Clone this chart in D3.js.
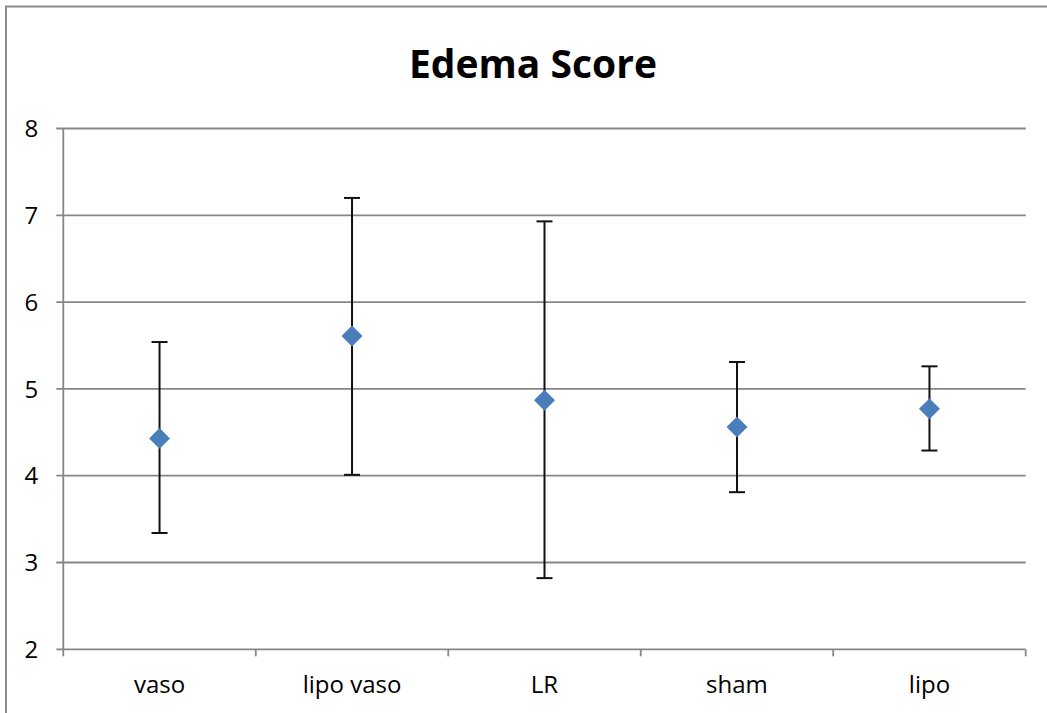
<!DOCTYPE html>
<html>
<head>
<meta charset="utf-8">
<script src="https://cdn.jsdelivr.net/npm/d3@7"></script>
<style>
  html, body { margin: 0; padding: 0; background: #fff; }
  svg { display: block; font-family: "Open Sans", sans-serif; }
</style>
</head>
<body>
<div id="chart"></div>
<script>
// data
const categories = ["vaso", "lipo vaso", "LR", "sham", "lipo"];
const means = [4.43, 5.61, 4.87, 4.56, 4.77];
const upper = [5.54, 7.20, 6.93, 5.31, 5.26];
const lower = [3.34, 4.01, 2.82, 3.81, 4.29];
const yTicks = [2, 3, 4, 5, 6, 7, 8];

const W = 1047, H = 713;
let margin = {top: 128.5, right: 21.3, bottom: 63.7, left: 63.3};
let width = W - margin.left - margin.right,
    height = H - margin.top - margin.bottom;

let data = categories.map(function(c, i) {
    return {cat: c, mean: means[i], hi: upper[i], lo: lower[i]};
});

let svg = d3.select("#chart").append("svg")
    .attr("width", W)
    .attr("height", H);

// outer chart border (cropped on right / bottom)
svg.append("path")
    .attr("d", "M6," + H + " V6.5 H" + W)
    .attr("fill", "none")
    .attr("stroke", "#8c8c8c")
    .attr("stroke-width", 2);

svg.append("text")
    .attr("x", 533)
    .attr("y", 78)
    .attr("text-anchor", "middle")
    .style("font-size", "39px")
    .style("font-weight", "bold")
    .attr("fill", "#000")
    .text("Edema Score");

let g = svg.append("g").attr("transform", "translate(" + margin.left + "," + margin.top + ")");

let x = d3.scaleBand()
    .domain(categories)
    .range([0, width])
    .padding(0);

let y = d3.scaleLinear()
    .domain([2, 8])
    .range([height, 0]);

// gridlines incl. tick stubs
g.append("g")
    .selectAll("line")
    .data(yTicks)
    .enter().append("line")
    .attr("x1", -7)
    .attr("x2", width)
    .attr("y1", function(d) { return y(d); })
    .attr("y2", function(d) { return y(d); })
    .attr("stroke", "#868686")
    .attr("stroke-width", 1.8);

// y axis line
g.append("line")
    .attr("x1", 0).attr("x2", 0)
    .attr("y1", 0).attr("y2", height)
    .attr("stroke", "#868686")
    .attr("stroke-width", 1.8);

// y labels
g.append("g")
    .selectAll("text")
    .data(yTicks)
    .enter().append("text")
    .attr("x", -25)
    .attr("y", function(d) { return y(d); })
    .attr("dy", "0.36em")
    .attr("text-anchor", "end")
    .style("font-size", "24px")
    .attr("fill", "#000")
    .text(function(d) { return d; });

// x ticks at category boundaries
let bounds = categories.map(function(c) { return x(c); }).concat([width]);
g.append("g")
    .selectAll("line")
    .data(bounds)
    .enter().append("line")
    .attr("x1", function(d) { return d; })
    .attr("x2", function(d) { return d; })
    .attr("y1", height)
    .attr("y2", height + 7)
    .attr("stroke", "#868686")
    .attr("stroke-width", 1.8);

// x labels
g.append("g")
    .selectAll("text")
    .data(categories)
    .enter().append("text")
    .attr("x", function(d) { return x(d) + x.bandwidth() / 2; })
    .attr("y", height + 44)
    .attr("text-anchor", "middle")
    .style("font-size", "24px")
    .attr("fill", "#000")
    .text(function(d) { return d; });

// error bars
let eb = g.append("g")
    .selectAll("g")
    .data(data)
    .enter().append("g")
    .attr("transform", function(d) { return "translate(" + (x(d.cat) + x.bandwidth() / 2) + ",0)"; });

eb.append("line")
    .attr("x1", 0).attr("x2", 0)
    .attr("y1", function(d) { return y(d.hi); })
    .attr("y2", function(d) { return y(d.lo); })
    .attr("stroke", "#111")
    .attr("stroke-width", 2);

eb.selectAll(".cap")
    .data(function(d) { return [d.hi, d.lo]; })
    .enter().append("line")
    .attr("class", "cap")
    .attr("x1", -8).attr("x2", 8)
    .attr("y1", function(v) { return y(v); })
    .attr("y2", function(v) { return y(v); })
    .attr("stroke", "#111")
    .attr("stroke-width", 2);

// diamond markers
eb.append("path")
    .attr("d", d3.symbol().type(d3.symbolSquare).size(220))
    .attr("transform", function(d) { return "translate(0," + y(d.mean) + ") rotate(45)"; })
    .attr("fill", "#4a7ebb");
</script>
</body>
</html>
